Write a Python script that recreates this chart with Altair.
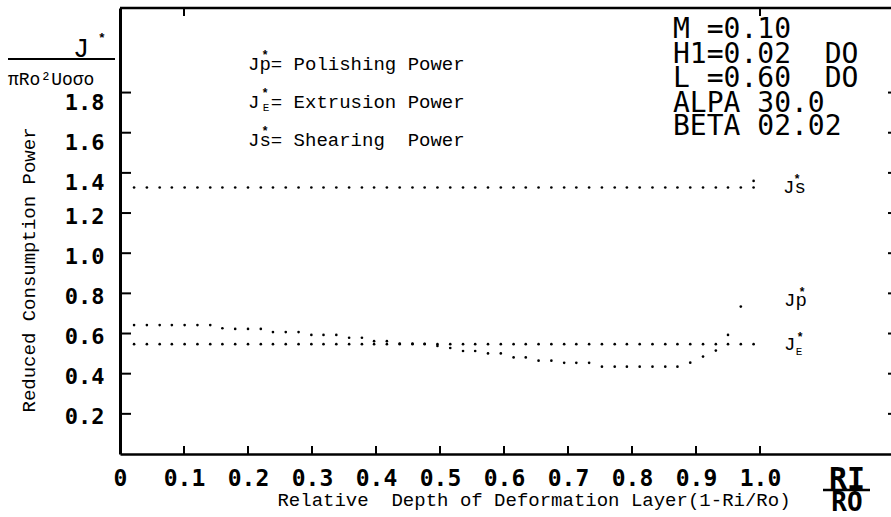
import altair as alt
import pandas as pd

# ---------------- data ----------------
x_vals = [0.022, 0.042, 0.062, 0.081, 0.101, 0.121, 0.141, 0.160, 0.180, 0.200,
          0.220, 0.239, 0.259, 0.279, 0.299, 0.318, 0.338, 0.358, 0.378, 0.397,
          0.417, 0.437, 0.457, 0.476, 0.496, 0.516, 0.536, 0.555, 0.575, 0.595,
          0.615, 0.634, 0.654, 0.674, 0.694, 0.713, 0.733, 0.753, 0.773, 0.792,
          0.812, 0.832, 0.852, 0.871, 0.891, 0.911, 0.931, 0.950, 0.970, 0.990]

jp_vals = [0.642, 0.642, 0.642, 0.642, 0.642, 0.642, 0.642, 0.626, 0.623, 0.623,
           0.623, 0.607, 0.607, 0.607, 0.593, 0.593, 0.593, 0.579, 0.579, 0.562,
           0.562, 0.550, 0.550, 0.549, 0.538, 0.528, 0.513, 0.513, 0.501, 0.501,
           0.481, 0.481, 0.465, 0.465, 0.454, 0.454, 0.454, 0.435, 0.435, 0.435,
           0.435, 0.435, 0.435, 0.435, 0.455, 0.485, 0.515, 0.593, 0.734, None]

je_vals = [0.547, 0.547, 0.547, 0.547, 0.547, 0.547, 0.547, 0.547, 0.547, 0.547,
           0.547, 0.547, 0.547, 0.547, 0.547, 0.547, 0.547, 0.547, 0.547, 0.547,
           0.547, 0.547, 0.547, 0.547, 0.547, 0.547, 0.547, 0.547, 0.547, 0.547,
           0.547, 0.547, 0.547, 0.547, 0.547, 0.547, 0.547, 0.547, 0.547, 0.547,
           0.547, 0.547, 0.547, 0.547, 0.547, 0.547, 0.547, 0.547, 0.547, 0.547]

js_vals = [1.327, 1.327, 1.327, 1.327, 1.327, 1.327, 1.327, 1.327, 1.327, 1.327,
           1.327, 1.327, 1.327, 1.327, 1.327, 1.327, 1.327, 1.327, 1.327, 1.327,
           1.327, 1.327, 1.327, 1.327, 1.327, 1.327, 1.327, 1.327, 1.327, 1.327,
           1.327, 1.327, 1.327, 1.327, 1.327, 1.327, 1.327, 1.327, 1.327, 1.327,
           1.327, 1.327, 1.327, 1.327, 1.327, 1.327, 1.327, 1.327, 1.327, 1.327]
js_end_x = [0.990]
js_end_y = [1.360]

x_tick_vals = [0.1, 0.2, 0.3, 0.4, 0.5, 0.6, 0.7, 0.8, 0.9, 1.0]
x_label_vals = [0.0, 0.1, 0.2, 0.3, 0.4, 0.5, 0.6, 0.7, 0.8, 0.9, 1.0]
y_tick_vals = [0.2, 0.4, 0.6, 0.8, 1.0, 1.2, 1.4, 1.6, 1.8]
top_tick_vals = [0.1, 1.0]

NB = "\u00a0"
x_title = "Relative" + NB + NB + "Depth of Deformation Layer(1-Ri/Ro)"
y_title = "Reduced Consumption Power"
legend_lines = ["Jp= Polishing Power", "J" + NB + "= Extrusion Power",
                "Js= Shearing" + NB + NB + "Power"]
param_lines = ["M =0.10", "H1=0.02" + NB + NB + "DO", "L =0.60" + NB + NB + "DO",
               "ALPA 30.0", "BETA 02.02"]
y_unit_top = "J"
y_unit_bottom = "\u03c0Ro\u00b2Uo\u03c3o"

# ---------------- layout ----------------
W, H = 771, 446
OX, OY = 120, 8
X_MAX = 771 / 640.0
Y_MAX = 446 / 200.8
MONO = "Courier New, Courier, FreeMono, Nimbus Mono PS, Liberation Mono, monospace"
BLOCK = "DejaVu Sans Mono"

xs = alt.Scale(domain=[0, X_MAX], nice=False, zero=False)
ys = alt.Scale(domain=[0, Y_MAX], nice=False, zero=False)

x_axis = alt.Axis(values=x_label_vals, title=None, ticks=False, grid=False,
                  domainColor="black", domainWidth=2.5,
                  labelExpr="datum.value == 0 ? '0' : format(datum.value, '.1f')",
                  labelFont=BLOCK, labelFontWeight="bold", labelFontSize=23,
                  labelColor="black", labelPadding=13, labelFlush=False,
                  labelOverlap=False)
y_axis = alt.Axis(values=y_tick_vals, title=None, ticks=False, grid=False,
                  domainColor="black", domainWidth=3, format=".1f",
                  labelFont=BLOCK, labelFontWeight="bold", labelFontSize=22,
                  labelColor="black", labelPadding=16,
                  labelOffset={"condition": {"test": "datum.value > 1.3", "value": 10},
                               "value": 3},
                  labelOverlap=False)

rows = []
for xv, v in zip(x_vals, jp_vals):
    if v is not None:
        rows.append({"x": xv, "y": v, "s": "Jp"})
for xv, v in zip(x_vals, je_vals):
    rows.append({"x": xv, "y": v, "s": "Je"})
for xv, v in zip(x_vals, js_vals):
    rows.append({"x": xv, "y": v, "s": "Js"})
for xv, v in zip(js_end_x, js_end_y):
    rows.append({"x": xv, "y": v, "s": "Js"})
df = pd.DataFrame(rows)

points = alt.Chart(df).mark_circle(size=7, color="black", opacity=1).encode(
    x=alt.X("x:Q", scale=xs, axis=x_axis),
    y=alt.Y("y:Q", scale=ys, axis=y_axis),
)

one = pd.DataFrame({"a": [0]})

y_ticks_df = pd.DataFrame({"v": y_tick_vals})
x_ticks_df = pd.DataFrame({"v": x_tick_vals})
top_ticks_df = pd.DataFrame({"v": top_tick_vals})

left_ticks = alt.Chart(y_ticks_df).mark_rule(color="black", strokeWidth=2).encode(
    y=alt.Y("v:Q", scale=ys, axis=y_axis), x=alt.value(0), x2=alt.value(11))
right_ticks = alt.Chart(y_ticks_df).mark_rule(color="black", strokeWidth=2).encode(
    y=alt.Y("v:Q", scale=ys, axis=y_axis), x=alt.value(W - 3), x2=alt.value(W))
bottom_ticks = alt.Chart(x_ticks_df).mark_rule(color="black", strokeWidth=2).encode(
    x=alt.X("v:Q", scale=xs, axis=x_axis), y=alt.value(H), y2=alt.value(H - 8))
top_ticks = alt.Chart(top_ticks_df).mark_rule(color="black", strokeWidth=2).encode(
    x=alt.X("v:Q", scale=xs, axis=x_axis), y=alt.value(0), y2=alt.value(8))
top_line = alt.Chart(one).mark_rule(color="black", strokeWidth=2.5).encode(
    x=alt.value(0), x2=alt.value(W), y=alt.value(0))


def rule(px1, px2, py, w=2):
    return alt.Chart(one).mark_rule(color="black", strokeWidth=w).encode(
        x=alt.value(px1 - OX), x2=alt.value(px2 - OX), y=alt.value(py - OY))


def txt(s, px, py, size, font=MONO, weight="normal", align="left",
        baseline="alphabetic", angle=0):
    return alt.Chart(one).mark_text(
        text=s, font=font, fontSize=size, fontWeight=weight, align=align,
        baseline=baseline, angle=angle, color="black").encode(
        x=alt.value(px - OX), y=alt.value(py - OY))


layers = [points, left_ticks, right_ticks, bottom_ticks, top_ticks, top_line]

# axis titles
layers.append(txt(x_title, 534, 506, 19, align="center"))
layers.append(txt(y_title, 35, 270, 19, align="center", angle=270))

# y unit fraction (top left)
layers.append(txt(y_unit_top, 81, 57, 27, align="center"))
layers.append(txt("*", 102, 42, 13, weight="bold", align="center"))
layers.append(rule(8, 115, 59, 2))
layers.append(txt(y_unit_bottom, 8, 85, 18))

# legend text
for line, base in zip(legend_lines, [70, 108, 146]):
    layers.append(txt(line, 248, base, 19))
    layers.append(txt("*", 265, base - 11, 12, weight="bold", align="center"))
layers.append(txt("E", 266, 111, 11, align="center"))

# parameters block
for line, base in zip(param_lines, [38, 63, 87, 112, 135]):
    layers.append(txt(line, 673, base, 28, font=BLOCK))

# series labels at right
layers.append(txt("Js", 783, 193, 19))
layers.append(txt("*", 797, 183, 12, weight="bold", align="center"))
layers.append(txt("Jp", 784, 306, 19))
layers.append(txt("*", 802, 296, 12, weight="bold", align="center"))
layers.append(txt("J", 784, 350, 19))
layers.append(txt("E", 799, 355, 11, align="center"))
layers.append(txt("*", 800, 341, 12, weight="bold", align="center"))

# RI / RO
layers.append(txt("RI", 847, 489, 30, font=BLOCK, weight="bold", align="center"))
layers.append(rule(823, 870, 490, 2.5))
layers.append(txt("RO", 847, 511, 26, font=BLOCK, weight="bold", align="center"))

chart = alt.layer(*layers).properties(
    width=W, height=H,
    autosize=alt.AutoSizeParams(type="none"),
    padding={"left": OX, "top": OY, "right": 0, "bottom": 517 - OY - H},
    background="white",
).configure_view(stroke=None)

chart.save("out.html", embed_options={"renderer": "svg", "actions": False})
